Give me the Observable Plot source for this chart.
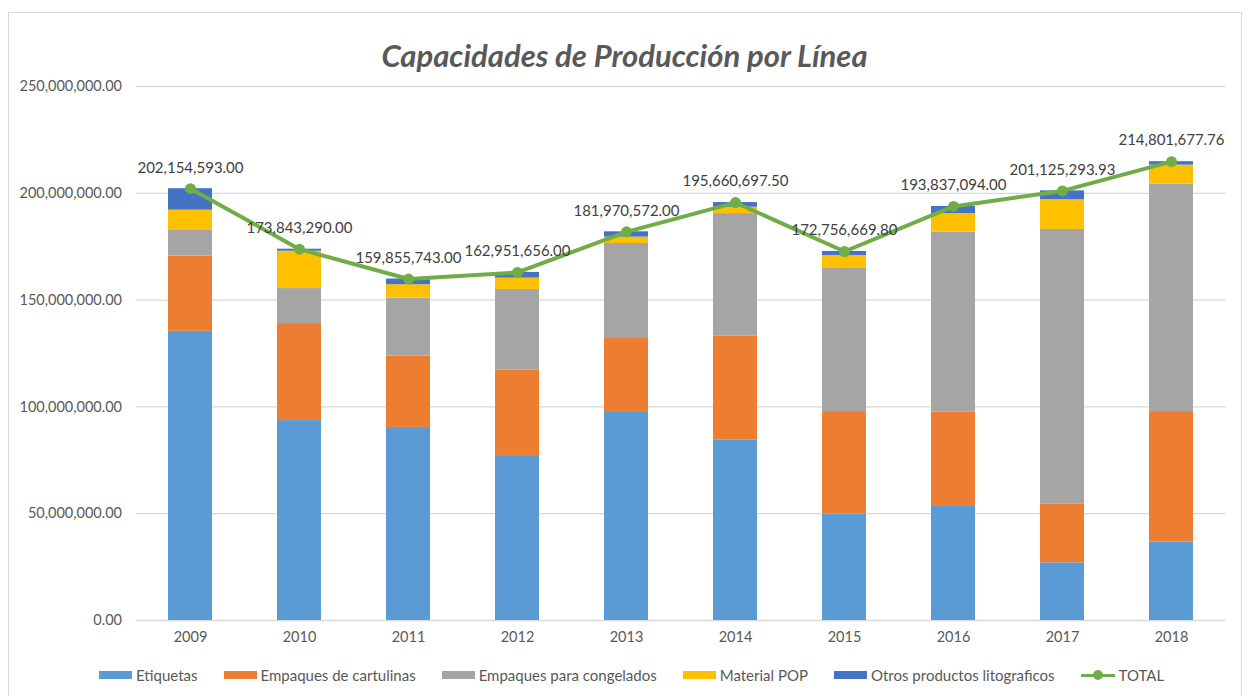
<!DOCTYPE html>
<html>
<head>
<meta charset="utf-8">
<script src="https://cdn.jsdelivr.net/npm/d3@7"></script>
<script src="https://cdn.jsdelivr.net/npm/@observablehq/plot@0.6"></script>
<style>
  html, body { margin: 0; padding: 0; background: #fff; }
  #wrap { position: relative; width: 1249px; height: 696px; overflow: hidden; font-family: Lato, "Open Sans", sans-serif; }
  #frame { position: absolute; left: 8px; top: 12px; width: 1234px; height: 720px; border: 1px solid #d9d9d9; box-sizing: border-box; }
  #title { position: absolute; left: 0; top: 35px; width: 1249px; text-align: center; font-size: 31px; font-weight: bold; font-style: italic; color: #595959; line-height: 40px; }
  #chart { position: absolute; left: 0; top: 0; }
  #legend { position: absolute; left: 99px; top: 666px; display: flex; gap: 26px; align-items: center; font-size: 15px; color: #595959; white-space: nowrap; }
  .item { display: flex; align-items: center; gap: 4px; }
  .sw { width: 33px; height: 8px; display: inline-block; }
  .ln { position: relative; width: 34px; height: 16px; display: inline-block; }
  .ln::before { content: ""; position: absolute; left: 0; right: 0; top: 6.5px; height: 3px; background: #70AD47; }
  .ln::after { content: ""; position: absolute; left: 12px; top: 3px; width: 10px; height: 10px; border-radius: 50%; background: #70AD47; }
</style>
</head>
<body>
<div id="wrap">
  <div id="frame"></div>
  <div id="chart"></div>
  <div id="title">Capacidades de Producción por Línea</div>
  <div id="legend"></div>
</div>
<script>
// Years (categories)
const years = ["2009","2010","2011","2012","2013","2014","2015","2016","2017","2018"];

// Series values, in millions
const etiquetas   = [135.4, 93.6, 90.4, 77.2, 97.8, 84.4, 49.8, 53.4, 27.0, 36.7];
const cartulinas  = [35.2, 45.4, 33.3, 40.0, 34.2, 48.7, 48.0, 44.1, 27.4, 61.1];
const congelados  = [12.0, 16.4, 27.2, 37.8, 44.5, 57.4, 67.0, 84.3, 128.7, 106.5];
const materialPop = [9.5, 17.5, 6.3, 5.3, 3.0, 3.0, 6.1, 8.7, 13.9, 8.9];
const otros       = [10.05, 0.94, 2.66, 2.65, 2.47, 2.16, 1.86, 3.34, 4.13, 1.6];

// TOTAL line (labelled values)
const totals = [202154593.00, 173843290.00, 159855743.00, 162951656.00, 181970572.00,
                195660697.50, 172756669.80, 193837094.00, 201125293.93, 214801677.76];

// Series names and colours
const seriesNames = ["Etiquetas", "Empaques de cartulinas", "Empaques para congelados", "Material POP", "Otros productos litograficos"];
const seriesColors = ["#5B9BD5", "#ED7D31", "#A5A5A5", "#FFC000", "#4472C4"];
const totalName = "TOTAL";
const totalColor = "#70AD47";

// Y ticks
const yTicks = [0, 50000000, 100000000, 150000000, 200000000, 250000000];

const UNIT = 1e6;
const seriesValues = [etiquetas, cartulinas, congelados, materialPop, otros];
const rows = seriesNames.flatMap((name, s) =>
  years.map((year, i) => ({year, series: name, value: seriesValues[s][i] * UNIT}))
);
const totalRows = years.map((year, i) => ({year, total: totals[i]}));

const fmt = d3.format(",.2f");

const chart = Plot.plot({
  width: 1249,
  height: 660,
  marginLeft: 135.5,
  marginRight: 23.5,
  marginTop: 86,
  marginBottom: 40,
  style: {fontFamily: "Lato, 'Open Sans', sans-serif", fontSize: "14.5px", color: "#595959", background: "transparent", overflow: "visible"},
  x: {domain: years, paddingInner: 0.6, paddingOuter: 0.3, label: null},
  y: {domain: [0, 250000000], label: null},
  color: {domain: seriesNames, range: seriesColors},
  marks: [
    Plot.ruleY(yTicks, {stroke: "#d9d9d9", strokeWidth: 1.3}),
    Plot.axisY({ticks: yTicks, tickFormat: fmt, tickSize: 0, tickPadding: 14, fill: "#595959", label: null, fontSize: 14.5}),
    Plot.axisX({tickSize: 0, tickPadding: 11, fill: "#595959", label: null, fontSize: 14.5}),
    Plot.barY(rows, {x: "year", y: "value", fill: "series", order: seriesNames}),
    Plot.line(totalRows, {x: "year", y: "total", stroke: totalColor, strokeWidth: 4}),
    Plot.dot(totalRows, {x: "year", y: "total", r: 5.5, fill: totalColor}),
    Plot.text(totalRows, {x: "year", y: "total", text: d => fmt(d.total), dy: -21, fill: "#404040", fontSize: 15})
  ]
});
document.getElementById("chart").appendChild(chart);

// Legend
const legend = document.getElementById("legend");
seriesNames.forEach((name, i) => {
  const it = document.createElement("span");
  it.className = "item";
  it.innerHTML = `<span class="sw" style="background:${seriesColors[i]}"></span><span>${name}</span>`;
  legend.appendChild(it);
});
const tot = document.createElement("span");
tot.className = "item";
tot.innerHTML = `<span class="ln"></span><span>${totalName}</span>`;
legend.appendChild(tot);
</script>
</body>
</html>
